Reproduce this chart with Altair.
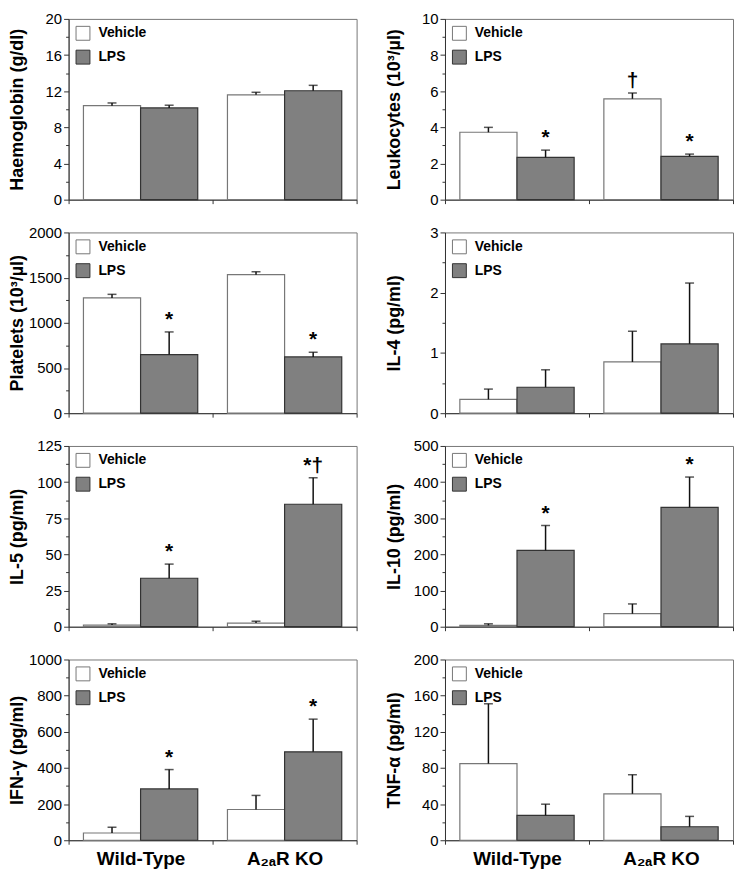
import altair as alt
import pandas as pd
import numpy as np

genotypes = ["Wild-Type", "A₂ₐR KO"]
treatments = ["Vehicle", "LPS"]

titles = ["Haemoglobin (g/dl)", "Leukocytes (10³/µl)", "Platelets (10³/µl)", "IL-4 (pg/ml)",
          "IL-5 (pg/ml)", "IL-10 (pg/ml)", "IFN-γ (pg/ml)", "TNF-α (pg/ml)"]
y_max = [20, 10, 2000, 3, 125, 500, 1000, 200]
y_step = [4, 2, 500, 1, 25, 100, 200, 40]

# order: WT-Vehicle, WT-LPS, KO-Vehicle, KO-LPS
haemoglobin_mean = [10.4, 10.15, 11.6, 12.05]
haemoglobin_upper = [10.7, 10.45, 11.88, 12.65]
haemoglobin_mark = ["", "", "", ""]

leukocytes_mean = [3.73, 2.34, 5.58, 2.39]
leukocytes_upper = [4.0, 2.74, 5.9, 2.52]
leukocytes_mark = ["", "*", "†", "*"]

platelets_mean = [1275, 648, 1533, 623]
platelets_upper = [1315, 899, 1565, 674]
platelets_mark = ["", "*", "", "*"]

il4_mean = [0.23, 0.43, 0.85, 1.15]
il4_upper = [0.40, 0.72, 1.36, 2.16]
il4_mark = ["", "", "", ""]

il5_mean = [1.1, 33.5, 2.5, 84.7]
il5_upper = [2.0, 43.3, 3.8, 103.0]
il5_mark = ["", "*", "", "*†"]

il10_mean = [3.6, 211, 36, 330]
il10_upper = [8, 280, 63, 414]
il10_mark = ["", "*", "", "*"]

ifng_mean = [40, 284, 170, 489]
ifng_upper = [72, 391, 248, 670]
ifng_mark = ["", "*", "", "*"]

tnfa_mean = [84.8, 27.5, 51.4, 14.9]
tnfa_upper = [151, 39.9, 72.5, 26.4]
tnfa_mark = ["", "", "", ""]

means = [haemoglobin_mean, leukocytes_mean, platelets_mean, il4_mean,
         il5_mean, il10_mean, ifng_mean, tnfa_mean]
uppers = [haemoglobin_upper, leukocytes_upper, platelets_upper, il4_upper,
          il5_upper, il10_upper, ifng_upper, tnfa_upper]
marks = [haemoglobin_mark, leukocytes_mark, platelets_mark, il4_mark,
         il5_mark, il10_mark, ifng_mark, tnfa_mark]

FONT = "Liberation Sans"
W, H = 290, 182


def panel(i):
    df = pd.DataFrame({
        "genotype": [g for g in genotypes for _ in treatments],
        "treatment": treatments * 2,
        "mean": means[i],
        "upper": uppers[i],
        "mark": marks[i],
    })
    bottom = i >= 6
    xaxis = alt.Axis(
        title=None, tickBand="extent", labels=bottom, labelAngle=0,
        labelFontSize=19, labelFontWeight="bold", labelColor="black", labelPadding=5,
        tickSize=4, tickColor="#333", domainColor="#333", ticks=True,
        labelFont=FONT,
    )
    base = alt.Chart(df).encode(
        x=alt.X("genotype:N", sort=genotypes,
                scale=alt.Scale(domain=genotypes, paddingInner=0, paddingOuter=0),
                axis=xaxis),
        xOffset=alt.XOffset("treatment:N", sort=treatments,
                            scale=alt.Scale(domain=treatments, paddingInner=0, paddingOuter=0.26)),
    )
    yscale = alt.Scale(domain=[0, y_max[i]], nice=False, zero=True)
    major = [float(v) for v in np.arange(0, y_max[i] + y_step[i] / 2, y_step[i])]
    minor = [float(v) for v in np.arange(y_step[i] / 2, y_max[i], y_step[i])]
    yaxis = alt.Axis(
        values=major, title=titles[i], titleX=-46, titleBaseline="alphabetic", format="d",
        titleFontSize=18, titleFontWeight="bold", titleFont=FONT, titleColor="black",
        labelFontSize=15, labelFont=FONT, labelColor="black", labelPadding=2,
        tickSize=5, tickColor="#333", domainColor="#333", grid=False,
    )
    bars = base.mark_bar(strokeWidth=1.2).encode(
        y=alt.Y("mean:Q", scale=yscale, axis=yaxis),
        fill=alt.Fill("treatment:N", sort=treatments,
                      scale=alt.Scale(domain=treatments, range=["#ffffff", "#808080"]),
                      legend=alt.Legend(title=None, orient="top-left", offset=7)),
        stroke=alt.Stroke("treatment:N", sort=treatments,
                          scale=alt.Scale(domain=treatments, range=["#777777", "#333333"]),
                          legend=None),
    )
    err = base.mark_rule(color="#111", strokeWidth=1.5).encode(
        y=alt.Y("mean:Q", scale=yscale, axis=None), y2="upper:Q")
    cap = base.mark_tick(color="#111", thickness=1.5, size=9, orient="horizontal").encode(
        y=alt.Y("upper:Q", scale=yscale, axis=None))
    txt = base.mark_text(fontSize=21, fontWeight="bold", baseline="alphabetic", dy=-6,
                         font=FONT, color="black").encode(
        y=alt.Y("upper:Q", scale=yscale, axis=None), text="mark:N")
    minor_ax = base.mark_point(opacity=0).encode(
        y=alt.Y("mean:Q", scale=yscale,
                axis=alt.Axis(values=minor, labels=False, domain=False, title=None,
                              tickSize=3, tickColor="#333", orient="left", grid=False)))
    return alt.layer(bars, err, cap, txt, minor_ax).resolve_axis(y="independent").properties(
        width=W, height=H)


panels = [panel(i) for i in range(8)]
chart = alt.concat(*panels, columns=2, spacing={"row": 33, "column": 89}, bounds="flush").resolve_scale(
    fill="independent", stroke="independent", y="independent", x="independent", xOffset="independent"
).resolve_legend(fill="independent", stroke="independent").properties(
    padding={"left": 0, "top": 0, "right": 0, "bottom": 0}
).configure(font=FONT).configure_view(stroke="#777777", strokeWidth=1).configure_legend(
    symbolType="square", symbolSize=196, symbolStrokeColor="#333", symbolStrokeWidth=1,
    labelFontSize=14, labelFontWeight="bold", labelFont=FONT, labelColor="black",
    rowPadding=5, padding=0, labelOffset=8, symbolOpacity=1,
)

chart.save("out.html", embed_options={"renderer": "svg", "actions": False})
